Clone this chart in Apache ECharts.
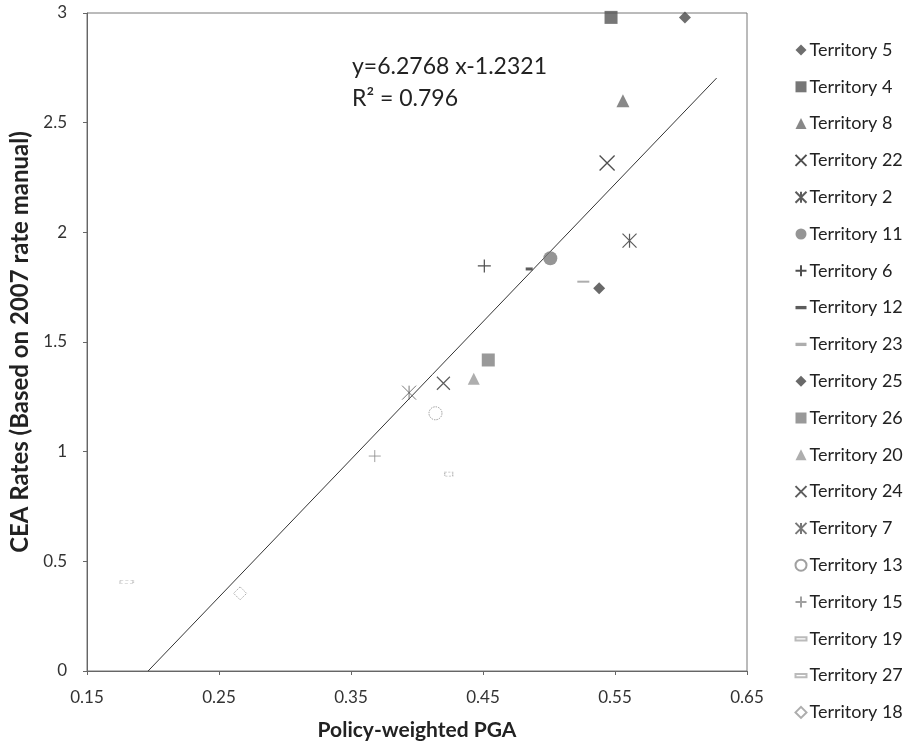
<!DOCTYPE html>
<html>
<head>
<meta charset="utf-8">
<script src="https://cdn.jsdelivr.net/npm/echarts@6/dist/echarts.min.js"></script>
<style>
  html, body { margin: 0; padding: 0; background: #fff; }
  #chart { width: 916px; height: 748px; }
</style>
</head>
<body>
<div id="chart"></div>
<script>
// data
var territories = ['Territory 5', 'Territory 4', 'Territory 8', 'Territory 22', 'Territory 2',
  'Territory 11', 'Territory 6', 'Territory 12', 'Territory 23', 'Territory 25', 'Territory 26',
  'Territory 20', 'Territory 24', 'Territory 7', 'Territory 13', 'Territory 15', 'Territory 19',
  'Territory 27', 'Territory 18'];
var pga = [0.603, 0.547, 0.556, 0.544, 0.561, 0.501, 0.451, 0.485, 0.526, 0.538, 0.454,
  0.443, 0.420, 0.394, 0.414, 0.368, 0.424, 0.180, 0.266];
var ceaRate = [2.98, 2.98, 2.60, 2.316, 1.962, 1.882, 1.847, 1.833, 1.775, 1.745, 1.418,
  1.332, 1.312, 1.269, 1.175, 0.980, 0.898, 0.407, 0.354];
var xTicks = [0.15, 0.25, 0.35, 0.45, 0.55, 0.65];
var yTicks = [0, 0.5, 1, 1.5, 2, 2.5, 3];

// linear trendline
var slope = 6.2768;
var intercept = -1.2321;
var trendEnd = 0.627;

var FONT = 'Lato, "Open Sans", sans-serif';
var crossPath = 'path://M0,0L10,10M10,0L0,10';
var starPath = 'path://M0,0L10,10M10,0L0,10M5,0L5,10';
var plusPath = 'path://M5,0L5,10M0,5L10,5';
var dashPath = 'path://M0,0L10,0L10,3L0,3Z';

// marker look per territory (same order as territories)
var markers = [
  { symbol: 'diamond', size: 12, color: '#4a4a4a' },
  { symbol: 'rect', size: 13, color: '#555' },
  { symbol: 'triangle', size: 13, color: '#6a6a6a' },
  { symbol: crossPath, size: 15, line: '#222', width: 1.3 },
  { symbol: starPath, size: 14, line: '#333', width: 1.2 },
  { symbol: 'circle', size: 14, color: '#7a7a7a' },
  { symbol: plusPath, size: 13, line: '#222', width: 1.2 },
  { symbol: dashPath, size: [7, 3], color: '#333' },
  { symbol: dashPath, size: [12, 2], color: '#999' },
  { symbol: 'diamond', size: 12, color: '#444' },
  { symbol: 'rect', size: 13, color: '#808080' },
  { symbol: 'triangle', size: 12, color: '#9a9a9a' },
  { symbol: crossPath, size: 13, line: '#333', width: 1.2 },
  { symbol: starPath, size: 14, line: '#555', width: 1 },
  { symbol: 'circle', size: 13, hollow: '#888' },
  { symbol: plusPath, size: 12, line: '#888', width: 1 },
  { symbol: dashPath, size: [8, 4], hollow: '#aaa' },
  { symbol: dashPath, size: [13, 3], hollow: '#aaa' },
  { symbol: 'diamond', size: 13, hollow: '#999' }
];

var series = territories.map(function (name, i) {
  var m = markers[i];
  var style;
  if (m.line) {
    style = { color: 'none', borderColor: m.line, borderWidth: m.width };
  } else if (m.hollow) {
    style = { color: '#fff', borderColor: m.hollow, borderWidth: 1, borderType: [1.5, 1] };
  } else {
    style = { color: m.color };
  }
  return {
    name: name,
    type: 'scatter',
    symbol: m.symbol,
    symbolSize: m.size,
    itemStyle: style,
    z: 3,
    data: [[pga[i], ceaRate[i]]]
  };
});

series.push({
  name: 'trend',
  type: 'line',
  symbol: 'none',
  silent: true,
  lineStyle: { color: '#333', width: 1 },
  z: 2,
  data: [[-intercept / slope, 0], [trendEnd, slope * trendEnd + intercept]]
});

var chart = echarts.init(document.getElementById('chart'));
chart.setOption({
  backgroundColor: '#fff',
  animation: false,
  textStyle: { fontFamily: FONT },
  grid: {
    left: 87, right: 169, top: 13, bottom: 77,
    show: true, borderColor: '#777', borderWidth: 1
  },
  legend: {
    orient: 'vertical',
    left: 793,
    top: 41,
    padding: 0,
    itemGap: 18.8,
    itemWidth: 11,
    itemHeight: 11,
    data: territories,
    textStyle: { fontFamily: FONT, fontSize: 18, lineHeight: 18, color: '#222', padding: [0, 0, 0, -2] }
  },
  xAxis: {
    type: 'value',
    min: xTicks[0],
    max: xTicks[xTicks.length - 1],
    interval: 0.1,
    name: 'Policy-weighted PGA',
    nameLocation: 'middle',
    nameGap: 49,
    nameTextStyle: { fontFamily: FONT, fontSize: 21, fontWeight: 'bold', color: '#222' },
    axisLine: { lineStyle: { color: '#666', width: 1 } },
    axisTick: { length: 4, lineStyle: { color: '#666' } },
    axisLabel: {
      margin: 18, fontSize: 17, color: '#333', fontFamily: FONT,
      formatter: function (v) { return v.toFixed(2); }
    },
    splitLine: { show: false }
  },
  yAxis: {
    type: 'value',
    min: yTicks[0],
    max: yTicks[yTicks.length - 1],
    interval: 0.5,
    name: 'CEA Rates (Based on 2007 rate manual)',
    nameLocation: 'middle',
    nameGap: 54,
    nameTextStyle: { fontFamily: FONT, fontSize: 24, fontWeight: 'bold', color: '#222' },
    axisLine: { show: true, lineStyle: { color: '#666', width: 1 } },
    axisTick: { show: true, length: 4, lineStyle: { color: '#666' } },
    axisLabel: { margin: 20, fontSize: 17, color: '#333', fontFamily: FONT },
    splitLine: { show: false }
  },
  graphic: [
    {
      type: 'text', left: 352, top: 55,
      style: { text: 'y=6.2768 x-1.2321', fontFamily: FONT, fontSize: 23, fill: '#222' }
    },
    {
      type: 'text', left: 352, top: 87,
      style: { text: 'R² = 0.796', fontFamily: FONT, fontSize: 23, fill: '#222' }
    }
  ],
  series: series
});
</script>
</body>
</html>
